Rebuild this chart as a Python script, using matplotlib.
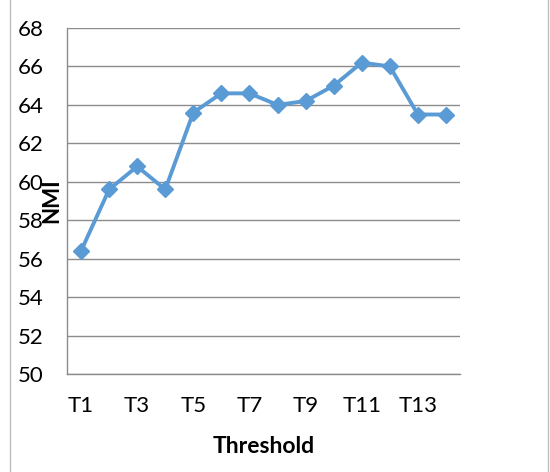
import matplotlib.pyplot as plt
from matplotlib.patches import Rectangle

thresholds = ['T1', 'T2', 'T3', 'T4', 'T5', 'T6', 'T7', 'T8', 'T9', 'T10', 'T11', 'T12', 'T13', 'T14']
nmi = [56.4, 59.6, 60.8, 59.6, 63.6, 64.6, 64.6, 64.0, 64.2, 65.0, 66.2, 66.0, 63.5, 63.5]

plt.rcParams['font.family'] = ['Lato', 'DejaVu Sans']

fig = plt.figure(figsize=(5.5, 4.72), dpi=100)
ax = fig.add_axes([67/550, 1 - 374/472, 393/550, 346/472])

x = list(range(len(thresholds)))
ax.plot(x, nmi, color='#5B9BD5', linewidth=2.8, marker='D', markersize=8.5, zorder=3)

ax.set_xlim(-0.5, len(thresholds) - 0.5)
ax.set_ylim(50, 68)
ax.set_yticks(range(50, 69, 2))
ax.set_xticks(x[::2])
ax.set_xticklabels(thresholds[::2])
ax.tick_params(axis='both', length=0, labelsize=16)
ax.tick_params(axis='y', pad=17)
ax.tick_params(axis='x', pad=16)
ax.grid(axis='y', color='#8c8c8c', linewidth=1)
ax.set_axisbelow(True)
for s in ['top', 'right']:
    ax.spines[s].set_visible(False)
for s in ['left', 'bottom']:
    ax.spines[s].set_color('#8c8c8c')
    ax.spines[s].set_linewidth(1)

ax.set_xlabel('Threshold', fontsize=16.5, fontweight='bold', labelpad=14)
ax.set_ylabel('NMI', fontsize=16, fontweight='bold')
ax.yaxis.set_label_coords(-0.013, 0.5)

# light frame around the chart area
fig.patches.append(Rectangle((10/550, -0.01), 538/550, 1.02, transform=fig.transFigure,
                             fill=False, edgecolor='#bfbfbf', linewidth=1))

fig.savefig('out.png', dpi=100)
